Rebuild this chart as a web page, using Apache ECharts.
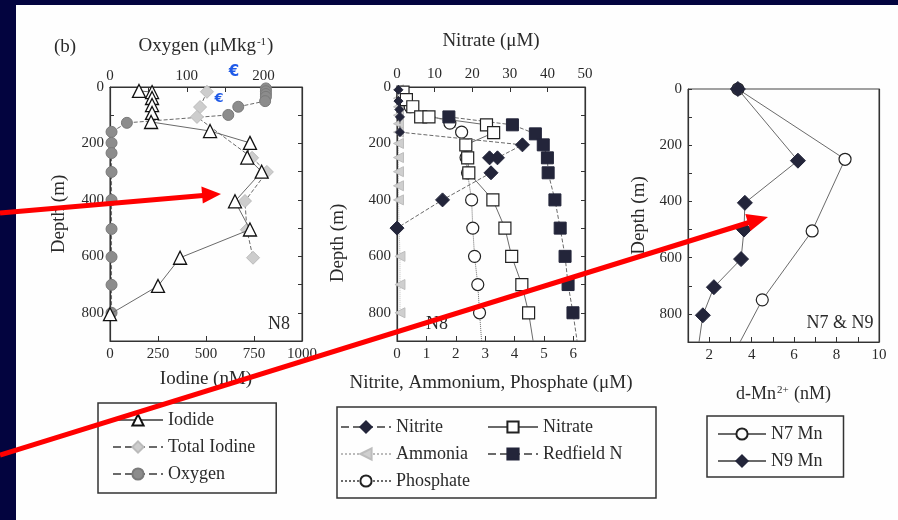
<!DOCTYPE html>
<html>
<head>
<meta charset="utf-8">
<script src="https://cdn.jsdelivr.net/npm/echarts@6/dist/echarts.min.js"></script>
<style>html,body{margin:0;padding:0;background:#03043f;}#c{width:898px;height:520px;}</style>
</head>
<body>
<div id="c"></div>
<script>
// ---------- Panel (b) N8 : iodine / oxygen ----------
const iodideDepth = [14, 18, 39, 64, 92, 124, 156, 198, 250, 300, 405, 505, 605, 705, 805];
const iodideNM    = [151, 219, 219, 219, 219, 214, 521, 729, 715, 790, 651, 729, 365, 250, 0];
const totalIodineDepth = [17, 71, 106, 251, 301, 404, 506, 605];
const totalIodineNM    = [505, 469, 453, 740, 817, 703, 713, 745];
const oxygenDepth = [5, 15, 25, 35, 50, 70, 99, 127, 159, 198, 234, 301, 400, 503, 602, 701, 800];
const oxygenUM    = [203, 203, 203, 203, 202, 167, 154, 22, 2, 2, 2, 2, 2, 2, 2, 2, 2];

// ---------- Panel N8 : nutrients ----------
const nitriteDepth = [10, 50, 80, 106, 160, 205, 251, 251, 304, 400, 500];
const nitriteUM    = [0.05, 0.05, 0.08, 0.1, 0.1, 4.27, 3.42, 3.15, 3.2, 1.55, 0];
const ammoniaDepth = [10, 40, 70, 100, 130, 160, 200, 250, 300, 350, 400, 600, 700, 800];
const ammoniaUM    = [0.05, 0.05, 0.05, 0.05, 0.05, 0.05, 0.05, 0.05, 0.05, 0.05, 0.05, 0.1, 0.1, 0.1];
const phosphateDepth = [40, 70, 128, 160, 250, 304, 400, 500, 600, 700, 800];
const phosphateUM    = [0.2, 0.45, 1.8, 2.2, 2.35, 2.4, 2.54, 2.58, 2.64, 2.75, 2.81];
const phosphateEnd   = [2.88, 900];
const nitrateDepth = [18, 45, 70, 106, 106, 134, 162, 205, 251, 304, 400, 500, 600, 700, 800];
const nitrateUM    = [1.6, 2.5, 4.2, 6.3, 8.5, 23.8, 25.7, 18.3, 18.8, 19.1, 25.5, 28.7, 30.5, 33.2, 35.0];
const nitrateEnd   = [36.2, 900];
const redfieldDepth = [106, 134, 166, 205, 251, 304, 400, 500, 600, 700, 800];
const redfieldUM    = [13.8, 30.7, 36.8, 38.9, 40.0, 40.2, 42.0, 43.4, 44.7, 45.5, 46.8];
const redfieldEnd   = [47.9, 900];

// ---------- Panel N7 & N9 : manganese ----------
const n7Depth = [0, 250, 505, 750];
const n7Mn    = [3.35, 8.4, 6.85, 4.5];
const n7End   = [3.45, 900];
const n9Depth = [0, 255, 405, 500, 605, 705, 805];
const n9Mn    = [3.35, 6.18, 3.68, 3.64, 3.5, 2.22, 1.7];
const n9End   = [1.52, 900];

const FONT = 'Liberation Serif';
const INK = '#2a2a2a';

function pairs(vals, depths, end) {
  const d = vals.map((v, i) => [v, depths[i]]);
  if (end) d.push({ value: end, symbol: 'none' });
  return d;
}

const axisBase = {
  type: 'value',
  axisLine: { show: true, onZero: false, lineStyle: { color: '#333', width: 1.2 } },
  axisTick: { show: true, inside: true, length: 5, lineStyle: { color: '#333' } },
  axisLabel: { color: INK, fontFamily: FONT, fontSize: 15, margin: 6, formatter: v => String(v) },
  splitLine: { show: false },
  nameTextStyle: { color: INK, fontFamily: FONT, fontSize: 19 }
};
function ax(o) {
  const base = Object.assign({}, axisBase, {
    axisLine: JSON.parse(JSON.stringify(axisBase.axisLine)),
    axisTick: JSON.parse(JSON.stringify(axisBase.axisTick)),
    axisLabel: Object.assign({}, axisBase.axisLabel),
    nameTextStyle: Object.assign({}, axisBase.nameTextStyle)
  });
  return Object.assign(base, o);
}

const depthAxis = (grid, pos, labels, name, gap) => ax({
  gridIndex: grid, position: pos, inverse: true, min: 0, max: 900, interval: 100,
  name: name || '', nameLocation: 'middle', nameGap: gap || 40, nameRotate: 90,
  axisLabel: { show: labels, color: INK, fontFamily: FONT, fontSize: 15, margin: 6,
    formatter: v => (v % 200 === 0 && v <= 800) ? String(v) : '' },
  axisTick: { show: true, inside: true, length: 4, lineStyle: { color: '#333' } }
});

const lineGrey = (type) => ({ color: '#6a6a6a', width: 1, type: type || 'solid' });

const option = {
  backgroundColor: '#03043f',
  animation: false,
  grid: [
    { left: 110, top: 87, width: 192, height: 254, show: true, borderColor: '#333', borderWidth: 1 },
    { left: 397, top: 87, width: 188, height: 254, show: true, borderColor: '#333', borderWidth: 1 },
    { left: 688, top: 89, width: 191, height: 253, show: true, borderColor: '#444', borderWidth: 1 }
  ],
  xAxis: [
    ax({ gridIndex: 0, position: 'bottom', min: 0, max: 1000, interval: 250,
      name: 'Iodine (nM)', nameLocation: 'middle', nameGap: 29 }),
    ax({ gridIndex: 0, position: 'top', min: 0, max: 250, interval: 50,
      name: 'Oxygen (μMkg{s|-1})', nameLocation: 'middle', nameGap: 31,
      nameTextStyle: { color: INK, fontFamily: FONT, fontSize: 19,
        rich: { s: { fontSize: 11, fontFamily: FONT, color: INK, verticalAlign: 'top', padding: [0, 1, 8, 1] } } },
      axisLabel: { color: INK, fontFamily: FONT, fontSize: 15, margin: 3,
        formatter: v => (v % 100 === 0) ? String(v) : '' } }),
    ax({ gridIndex: 1, position: 'bottom', min: 0, max: 6.4, interval: 1,
      name: 'Nitrite, Ammonium, Phosphate (μM)', nameLocation: 'middle', nameGap: 33,
      axisLabel: { color: INK, fontFamily: FONT, fontSize: 15, margin: 6, showMaxLabel: false,
        formatter: v => Number.isInteger(v) ? String(v) : '' } }),
    ax({ gridIndex: 1, position: 'top', min: 0, max: 50, interval: 10,
      name: 'Nitrate (μM)', nameLocation: 'middle', nameGap: 36,
      axisLabel: { color: INK, fontFamily: FONT, fontSize: 15, margin: 5, formatter: v => String(v) } }),
    ax({ gridIndex: 2, position: 'bottom', min: 1, max: 10, interval: 1,
      name: 'd-Mn{s|2+} (nM)', nameLocation: 'middle', nameGap: 43,
      nameTextStyle: { color: INK, fontFamily: FONT, fontSize: 18,
        rich: { s: { fontSize: 11, fontFamily: FONT, color: INK, verticalAlign: 'top', padding: [0, 1, 8, 1] } } },
      axisLabel: { color: INK, fontFamily: FONT, fontSize: 15, margin: 6,
        formatter: v => (v % 2 === 0) ? String(v) : '' } })
  ],
  yAxis: [
    depthAxis(0, 'left', true, 'Depth (m)', 41),
    depthAxis(0, 'right', false),
    depthAxis(1, 'left', true, '', 40),
    depthAxis(1, 'right', false),
    depthAxis(2, 'left', true, 'Depth (m)', 39),
    Object.assign(depthAxis(2, 'right', false), { axisTick: { show: false } })
  ],
  legend: [
    { data: ['Iodide', 'Total Iodine', 'Oxygen'], orient: 'vertical', left: 98, top: 403,
      itemWidth: 50, itemHeight: 14, itemGap: 9, padding: [8, 21, 10, 14],
      borderColor: '#333', borderWidth: 1.5, selectedMode: false,
      textStyle: { color: INK, fontFamily: FONT, fontSize: 18 } },
    { data: ['Nitrite', 'Ammonia', 'Phosphate'], orient: 'vertical', left: 340, top: 418,
      itemWidth: 50, itemHeight: 14, itemGap: 9, padding: 0, selectedMode: false,
      textStyle: { color: INK, fontFamily: FONT, fontSize: 18 } },
    { data: ['Nitrate', 'Redfield N'], orient: 'vertical', left: 487, top: 418,
      itemWidth: 50, itemHeight: 14, itemGap: 9, padding: 0, selectedMode: false,
      textStyle: { color: INK, fontFamily: FONT, fontSize: 18 } },
    { data: ['N7 Mn', 'N9 Mn'], orient: 'vertical', left: 707, top: 416,
      itemWidth: 48, itemHeight: 14, itemGap: 9, padding: [9, 21, 7, 10],
      borderColor: '#333', borderWidth: 1.5, selectedMode: false,
      textStyle: { color: INK, fontFamily: FONT, fontSize: 18 } }
  ],
  graphic: [
    { type: 'rect', z: -10, shape: { x: 16, y: 5, width: 882, height: 515 }, style: { fill: '#fefefe' } },
    { type: 'rect', z: 1, shape: { x: 337, y: 407, width: 319, height: 91 }, style: { fill: 'none', stroke: '#333', lineWidth: 1.5 } },
    { type: 'text', x: 65, y: 47, style: { text: '(b)', font: '19px "Liberation Serif"', fill: INK, textAlign: 'center', textVerticalAlign: 'middle' } },
    { type: 'text', x: 279, y: 324, style: { text: 'N8', font: '18px "Liberation Serif"', fill: INK, textAlign: 'center', textVerticalAlign: 'middle' } },
    { type: 'text', x: 437, y: 324, style: { text: 'N8', font: '18px "Liberation Serif"', fill: INK, textAlign: 'center', textVerticalAlign: 'middle' } },
    { type: 'text', x: 840, y: 323, style: { text: 'N7 & N9', font: '18px "Liberation Serif"', fill: INK, textAlign: 'center', textVerticalAlign: 'middle' } },
    { type: 'text', x: 338, y: 243, rotation: Math.PI / 2, style: { text: 'Depth (m)', font: '19px "Liberation Serif"', fill: INK, textAlign: 'center', textVerticalAlign: 'middle' } },
    { type: 'text', x: 234, y: 72, style: { text: '€', font: 'bold 15px "DejaVu Sans"', fill: '#1f5ae8', textAlign: 'center', textVerticalAlign: 'middle' } },
    { type: 'text', x: 219, y: 99, style: { text: '€', font: 'bold 13px "DejaVu Sans"', fill: '#1f5ae8', textAlign: 'center', textVerticalAlign: 'middle' } },
    // red annotation arrows
    { type: 'polyline', z: 100, shape: { points: [[0, 213], [203, 195.5]] }, style: { stroke: '#ff0000', lineWidth: 5 } },
    { type: 'polygon', z: 100, shape: { points: [[221, 194], [202.8, 203.5], [201.4, 186.5]] }, style: { fill: '#ff0000' } },
    { type: 'polyline', z: 100, shape: { points: [[0, 455], [749, 222.5]] }, style: { stroke: '#ff0000', lineWidth: 5 } },
    { type: 'polygon', z: 100, shape: { points: [[768, 217], [750.5, 231], [745.3, 214]] }, style: { fill: '#ff0000' } }
  ],
  series: [
    { name: 'Iodide', type: 'line', xAxisIndex: 0, yAxisIndex: 0, data: pairs(iodideNM, iodideDepth),
      symbol: 'triangle', symbolSize: 13, lineStyle: lineGrey(), z: 5,
      itemStyle: { color: '#ffffff', borderColor: '#111', borderWidth: 1.3 } },
    { name: 'Total Iodine', type: 'line', xAxisIndex: 0, yAxisIndex: 0, data: pairs(totalIodineNM, totalIodineDepth),
      symbol: 'diamond', symbolSize: 13, lineStyle: lineGrey('dashed'), z: 4,
      itemStyle: { color: '#cdcdcd', borderColor: '#bbb', borderWidth: 1 } },
    { name: 'Oxygen', type: 'line', xAxisIndex: 1, yAxisIndex: 0, data: pairs(oxygenUM, oxygenDepth),
      symbol: 'circle', symbolSize: 11, lineStyle: lineGrey('dashed'), z: 3,
      itemStyle: { color: '#8c8c8c', borderColor: '#7a7a7a', borderWidth: 1 } },

    { name: 'Ammonia', type: 'line', xAxisIndex: 2, yAxisIndex: 2, data: pairs(ammoniaUM, ammoniaDepth),
      symbol: 'triangle', symbolRotate: 90, symbolSize: 10, lineStyle: { color: '#bbb', width: 1, type: 'dotted' }, z: 3,
      itemStyle: { color: '#cfcfcf', borderColor: '#bdbdbd', borderWidth: 1 } },
    { name: 'Phosphate', type: 'line', xAxisIndex: 2, yAxisIndex: 2, data: pairs(phosphateUM, phosphateDepth, phosphateEnd),
      symbol: 'circle', symbolSize: 12, lineStyle: lineGrey('dotted'), z: 4,
      itemStyle: { color: '#ffffff', borderColor: '#222', borderWidth: 1.2 } },
    { name: 'Nitrite', type: 'line', xAxisIndex: 2, yAxisIndex: 2, data: pairs(nitriteUM, nitriteDepth),
      symbol: 'diamond', symbolSize: (v) => (Array.isArray(v) && v[0] < 0.2 && v[1] < 200) ? 9 : 14,
      lineStyle: lineGrey('dashed'), z: 6,
      itemStyle: { color: '#23253a', borderColor: '#23253a', borderWidth: 1 } },
    { name: 'Nitrate', type: 'line', xAxisIndex: 3, yAxisIndex: 2, data: pairs(nitrateUM, nitrateDepth, nitrateEnd),
      symbol: 'rect', symbolSize: 12, lineStyle: lineGrey(), z: 5,
      itemStyle: { color: '#ffffff', borderColor: '#222', borderWidth: 1.2 } },
    { name: 'Redfield N', type: 'line', xAxisIndex: 3, yAxisIndex: 2, data: pairs(redfieldUM, redfieldDepth, redfieldEnd),
      symbol: 'rect', symbolSize: 12, lineStyle: lineGrey('dashed'), z: 5,
      itemStyle: { color: '#23253a', borderColor: '#23253a', borderWidth: 1 } },

    { name: 'N7 Mn', type: 'line', xAxisIndex: 4, yAxisIndex: 4, data: pairs(n7Mn, n7Depth, n7End),
      symbol: 'circle', symbolSize: 12, lineStyle: lineGrey(), z: 4,
      itemStyle: { color: '#ffffff', borderColor: '#222', borderWidth: 1.2 } },
    { name: 'N9 Mn', type: 'line', xAxisIndex: 4, yAxisIndex: 4, data: pairs(n9Mn, n9Depth, n9End),
      symbol: 'diamond', symbolSize: 15, lineStyle: lineGrey(), z: 5,
      itemStyle: { color: '#23253a', borderColor: '#23253a', borderWidth: 1 } }
  ]
};

const chart = echarts.init(document.getElementById('c'), null, { renderer: 'canvas' });
chart.setOption(option);
</script>
</body>
</html>
